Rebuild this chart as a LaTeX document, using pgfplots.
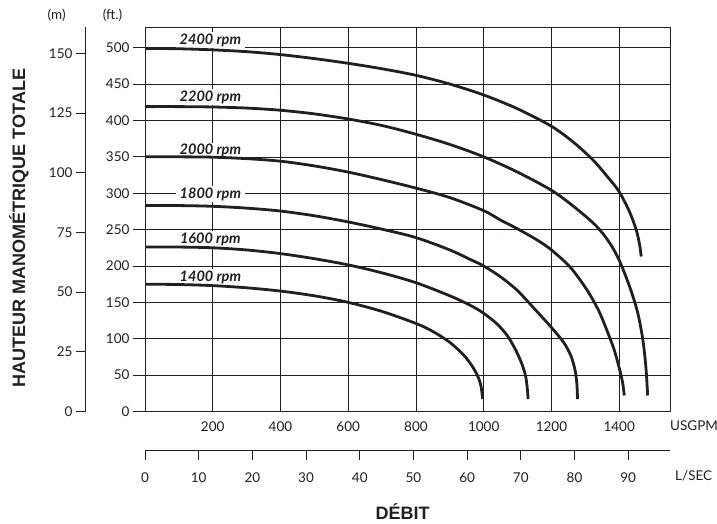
\documentclass[border=0pt]{standalone}
\usepackage{fontspec}
\setmainfont{Lato}
\newfontfamily\arial{Liberation Sans}
\usepackage{pgfplots}
\pgfplotsset{compat=1.18}
\definecolor{ink}{HTML}{231F20}
\newcommand{\tk}{\fontsize{13.5}{16}\selectfont}
\newcommand{\rpm}{\fontsize{14.5}{16}\selectfont\bfseries\itshape}

\pgfplotsset{
  base/.style={
    scale only axis,
    /pgf/number format/assume math mode=true,
    /pgf/number format/1000 sep={},
    ticklabel style={font=\tk, text=ink},
    axis line style={ink, line width=0.8pt},
    every tick/.style={ink, line width=0.8pt},
  },
  curve/.style={ink, line width=2.8pt, smooth},
}
\tikzset{rpmlabel/.style={font=\rpm, text=ink, fill=white, anchor=base, inner xsep=4pt, inner ysep=1.5pt}}

\begin{document}
\begin{tikzpicture}
\useasboundingbox (0pt,0pt) rectangle (717pt,523pt);

% metres scale on the far left
\begin{axis}[base, at={(85.3pt,111.5pt)}, anchor=south west,
  width=20pt, height=384.2pt,
  xmin=0, xmax=1, ymin=0, ymax=160.9,
  axis x line=none, axis y line*=left,
  ytick={0,25,...,150}, tick align=outside, major tick length=9.3pt]
\end{axis}

% feet / USGPM grid
\begin{axis}[base, at={(145pt,111.5pt)}, anchor=south west,
  width=525pt, height=384.2pt,
  xmin=0, xmax=1550, ymin=0, ymax=528,
  xtick={200,400,...,1400}, ytick={0,50,...,500},
  grid=major, major grid style={ink, line width=0.6pt},
  tick align=outside, major tick length=12pt,
  xtick pos=bottom, ytick pos=left,
  every major x tick/.append style={draw=none},
  x tick label style={yshift=5.5pt}]
  \node[rpmlabel] at (axis cs:193,504.4) {2400 rpm};
  \node[rpmlabel] at (axis cs:193,426.5) {2200 rpm};
  \node[rpmlabel] at (axis cs:193,352.7) {2000 rpm};
  \node[rpmlabel] at (axis cs:193,292.9) {1800 rpm};
  \node[rpmlabel] at (axis cs:193,231) {1600 rpm};
  \node[rpmlabel] at (axis cs:193,179.3) {1400 rpm};
\end{axis}

% pump curves, drawn over the labels
\begin{axis}[at={(145pt,111.5pt)}, anchor=south west, scale only axis,
  width=525pt, height=384.2pt,
  xmin=0, xmax=1550, ymin=0, ymax=528, hide axis]
  % 2400 rpm
  \addplot[curve] coordinates {(0,499) (100,498.5) (200,497) (300,494.5) (400,490.5) (500,485) (600,478.5) (700,471) (800,462) (900,450) (1000,435) (1100,416) (1200,392) (1265,370) (1324,345) (1370,320) (1400,302) (1430,275) (1450,250) (1460,230) (1465,213)};
  % 2200 rpm
  \addplot[curve] coordinates {(0,419) (100,419) (200,418.5) (300,417) (400,414) (500,409) (600,402) (700,393) (800,381) (900,367) (1000,350) (1100,329) (1200,304) (1265,282) (1330,256) (1370,233) (1400,208) (1432,170) (1455,135) (1470,98) (1479,60) (1484,22)};
  % 2000 rpm
  \addplot[curve] coordinates {(0,350) (100,350) (200,349.5) (300,347.5) (400,344) (500,337.5) (600,329) (700,318.5) (800,307) (900,294) (1000,276) (1050,263) (1100,251) (1160,235) (1200,222) (1256,198) (1305,167) (1340,138) (1365,110) (1385,85) (1400,60) (1410,40) (1415,22)};
  % 1800 rpm
  \addplot[curve] coordinates {(0,283) (100,283) (200,282) (300,279.5) (400,275.5) (500,269) (600,260.5) (700,250.5) (800,239) (900,222) (960,209) (1000,200) (1050,185) (1100,166) (1158,137) (1199,116) (1236,95) (1258,76) (1270,56) (1275,38) (1277,17)};
  % 1600 rpm
  \addplot[curve] coordinates {(0,226) (100,226) (200,225) (300,222) (400,217) (500,210) (600,201.5) (700,190.5) (800,177) (900,159) (960,146) (1000,135) (1040,120) (1070,104) (1095,84) (1113,65) (1124,48) (1129,30) (1131,17)};
  % 1400 rpm
  \addplot[curve] coordinates {(0,175) (100,174.5) (200,173) (300,170) (400,165.5) (500,159) (600,150) (700,137.5) (800,121) (850,110) (900,95) (940,78) (965,63) (983,48) (992,35) (997,17)};
\end{axis}

% L/SEC scale under the chart
\begin{axis}[base, at={(145pt,72.3pt)}, anchor=south west,
  width=525pt, height=10pt,
  xmin=0, xmax=97.79, ymin=0, ymax=1,
  axis y line=none, axis x line*=bottom,
  xtick={0,10,...,90}, tick align=outside, major tick length=9.3pt,
  x tick label style={yshift=-9pt}]
\end{axis}

\node[font=\tk, text=ink] at (56.7pt,507.3pt) {(m)};
\node[font=\tk, text=ink] at (112.5pt,507.3pt) {(ft.)};
\node[font=\tk, text=ink, anchor=west, inner xsep=0pt] at (670pt,97.3pt) {USGPM};
\node[font=\tk, text=ink, anchor=west, inner xsep=0pt] at (675pt,47pt) {L/SEC};
\node[font=\arial\fontsize{18}{20}\selectfont\bfseries, text=ink] at (402.5pt,11pt) {DÉBIT};
\node[font=\arial\fontsize{18}{20}\selectfont\bfseries, text=ink, rotate=90] at (18.8pt,295pt) {HAUTEUR MANOMÉTRIQUE TOTALE};
\end{tikzpicture}
\end{document}
